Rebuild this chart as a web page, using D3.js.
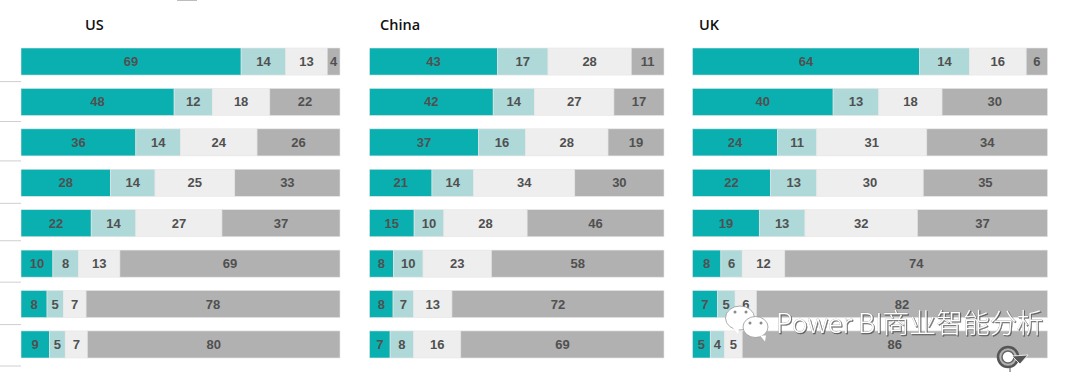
<!DOCTYPE html>
<html>
  <head>
    <meta charset="utf-8" />
    <title>stacked bars</title>
    <style>
      html, body { margin: 0; padding: 0; background: #fff; overflow: hidden; }
    </style>
  </head>
  <body>
    <svg width="1080" height="372" id="mainsvg"></svg>
    <script src="https://cdn.jsdelivr.net/npm/d3@7"></script>
    <script>
      const rows = [0, 1, 2, 3, 4, 5, 6, 7];
      const keys = ["a", "b", "c", "d"];

      const usA = [69, 48, 36, 28, 22, 10, 8, 9];
      const usB = [14, 12, 14, 14, 14, 8, 5, 5];
      const usC = [13, 18, 24, 25, 27, 13, 7, 7];
      const usD = [4, 22, 26, 33, 37, 69, 78, 80];

      const chinaA = [43, 42, 37, 21, 15, 8, 8, 7];
      const chinaB = [17, 14, 16, 14, 10, 10, 7, 8];
      const chinaC = [28, 27, 28, 34, 28, 23, 13, 16];
      const chinaD = [11, 17, 19, 30, 46, 58, 72, 69];

      const ukA = [64, 40, 24, 22, 19, 8, 7, 5];
      const ukB = [14, 13, 11, 13, 13, 6, 5, 4];
      const ukC = [16, 18, 31, 30, 32, 12, 6, 5];
      const ukD = [6, 30, 34, 35, 37, 74, 82, 86];

      const toRows = (a, b, c, d) => rows.map((i) => ({ a: a[i], b: b[i], c: c[i], d: d[i] }));

      const panels = [
        { title: "US", titleX: 85, x0: 21, x1: 340, data: toRows(usA, usB, usC, usD) },
        { title: "China", titleX: 380, x0: 369.5, x1: 664, data: toRows(chinaA, chinaB, chinaC, chinaD) },
        { title: "UK", titleX: 699, x0: 692.5, x1: 1047.5, data: toRows(ukA, ukB, ukC, ukD) },
      ];

      const svg = d3.select("#mainsvg");
      const color = d3.scaleOrdinal().domain(keys).range(["#0ab0b0", "#aed9d8", "#eeeeee", "#b1b1b1"]);
      const yScale = d3.scaleBand().domain(rows).range([48, 358]).paddingInner(0.33);
      const stack = d3.stack().keys(keys).offset(d3.stackOffsetExpand);

      // 左边残留的刻度线
      const tickGap = [6.5, 6, 5, 7, 4, 5, 7, 8];
      svg
        .append("g")
        .selectAll("line")
        .data(rows)
        .join("line")
        .attr("x1", 0)
        .attr("x2", 21)
        .attr("y1", (d) => yScale(d) + yScale.bandwidth() + tickGap[d])
        .attr("y2", (d) => yScale(d) + yScale.bandwidth() + tickGap[d])
        .attr("stroke", "#cfcfcf")
        .attr("stroke-width", 1);

      svg.append("rect").attr("x", 177).attr("y", 0).attr("width", 20).attr("height", 1).attr("fill", "#bdbdbd");

      panels.forEach((panel) => {
        const xScale = d3.scaleLinear().domain([0, 1]).range([panel.x0, panel.x1]);
        const g = svg.append("g");

        g.append("text")
          .text(panel.title)
          .attr("x", panel.titleX)
          .attr("y", 30)
          .attr("font-family", "'Open Sans', sans-serif")
          .attr("font-size", 14.5)
          .attr("font-weight", 600)
          .attr("fill", "#111");

        const layers = g
          .selectAll("g.layer")
          .data(stack(panel.data))
          .join("g")
          .attr("class", "layer");

        layers
          .selectAll("rect")
          .data((s) => s.map((v, i) => ({ v, i })))
          .join("rect")
          .attr("x", (d) => xScale(d.v[0]))
          .attr("y", (d) => yScale(d.i))
          .attr("width", (d) => xScale(d.v[1]) - xScale(d.v[0]))
          .attr("height", yScale.bandwidth())
          .attr("fill", function () {
            return color(d3.select(this.parentNode).datum().key);
          })
          .attr("stroke", "#e6e6e6")
          .attr("stroke-width", 0.6);

        layers
          .selectAll("text")
          .data((s) => s.map((v, i) => ({ v, i, value: v.data[s.key] })))
          .join("text")
          .text((d) => d.value)
          .attr("x", (d) => (xScale(d.v[0]) + xScale(d.v[1])) / 2)
          .attr("y", (d) => yScale(d.i) + yScale.bandwidth() / 2 + 4.5)
          .attr("text-anchor", "middle")
          .attr("font-family", "'Liberation Sans', Arial, sans-serif")
          .attr("font-size", 13)
          .attr("font-weight", 700)
          .attr("fill", "#505050");
      });

      // 水印
      const mark = svg.append("g");
      const bubble = (cx, cy, rx, ry, tailX) => {
        mark.append("ellipse").attr("cx", cx).attr("cy", cy).attr("rx", rx).attr("ry", ry)
          .attr("fill", "#fff").attr("stroke", "#8a8a8a").attr("stroke-width", 0.7);
        mark.append("path").attr("d", `M${tailX},${cy + ry - 2}l5,6l1,-6z`).attr("fill", "#fff");
      };
      bubble(740, 318, 14.5, 12, 733);
      bubble(755.5, 327, 12.5, 10.5, 760);
      [[735, 312], [746, 312], [750, 323], [761, 323]].forEach((p) => {
        mark.append("circle").attr("cx", p[0]).attr("cy", p[1]).attr("r", 1.5).attr("fill", "#8a8a8a");
      });
      mark.append("text")
        .text("Power BI商业智能分析")
        .attr("x", 776)
        .attr("y", 333)
        .attr("font-family", "'Noto Sans CJK SC', 'Noto Sans', sans-serif")
        .attr("font-size", 26.8)
        .attr("font-weight", 300)
        .attr("fill", "#fff")
        .attr("stroke", "#8f8f8f")
        .attr("stroke-width", 0.4)
        .attr("paint-order", "stroke")
        .attr("style", "filter: drop-shadow(1px 1px 0.6px rgba(60,60,60,.7))");

      // 右下角的小图标
      const spin = svg.append("g").attr("transform", "translate(1008,357)");
      spin.append("circle").attr("r", 10).attr("fill", "#b1b1b1").attr("stroke", "#555").attr("stroke-width", 2.5);
      spin.append("circle").attr("r", 6).attr("fill", "#fff").attr("stroke", "#666").attr("stroke-width", 1.5);
      spin.append("path").attr("d", "M4,-1L20,-2L12,7z").attr("fill", "#555").attr("stroke", "#fff").attr("stroke-width", 0.8);
      spin.append("line").attr("x1", 2).attr("x2", 2).attr("y1", 11).attr("y2", 15).attr("stroke", "#555");
    </script>
  </body>
</html>
